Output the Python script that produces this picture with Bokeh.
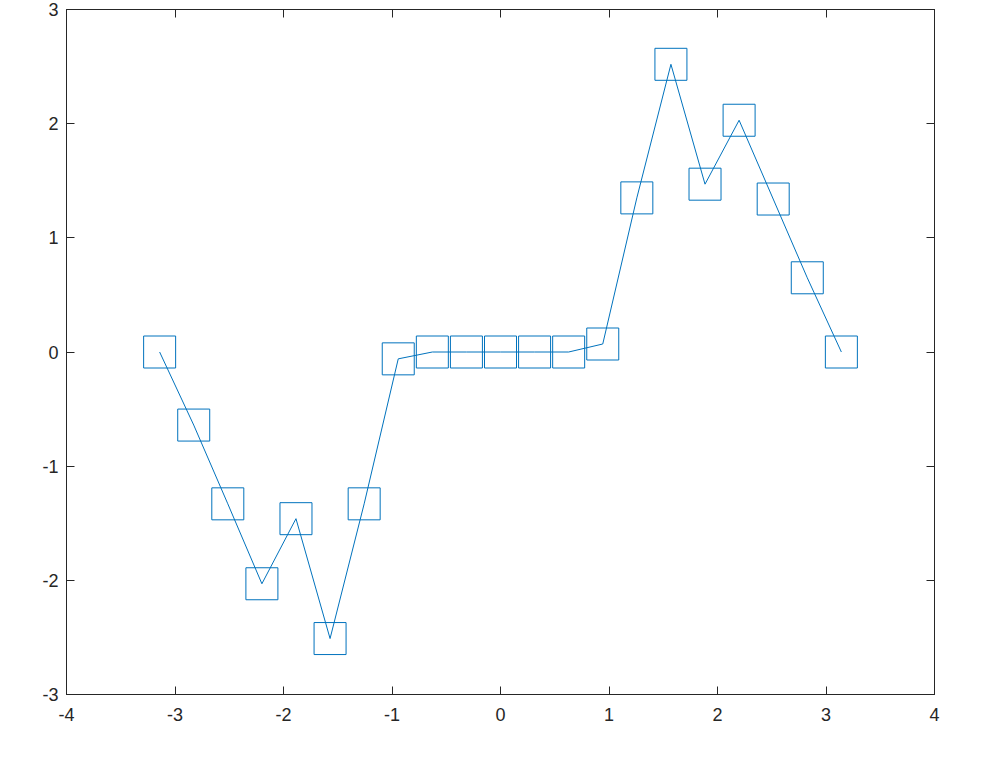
from bokeh.plotting import figure
from bokeh.models import (LinearAxis, FixedTicker, ColumnDataSource, Range1d,
                          PrintfTickFormatter, CustomJSTickFormatter)
from bokeh.embed import file_html
from bokeh.resources import INLINE

x_vals = [-3.1416, -2.8274, -2.5133, -2.1991, -1.8850, -1.5708, -1.2566, -0.9425,
          -0.6283, -0.3142, 0.0, 0.3142, 0.6283, 0.9425, 1.2566, 1.5708,
          1.8850, 2.1991, 2.5133, 2.8274, 3.1416]
y_vals = [0.0, -0.64, -1.33, -2.03, -1.46, -2.51, -1.33, -0.06,
          0.0, 0.0, 0.0, 0.0, 0.0, 0.07, 1.35, 2.52,
          1.47, 2.03, 1.34, 0.65, 0.0]
x_ticks = [-4, -3, -2, -1, 0, 1, 2, 3, 4]
y_ticks = [-3, -2, -1, 0, 1, 2, 3]

BLUE = "#0072BD"
AX = "#262626"
FONT = "Liberation Sans"

src = ColumnDataSource(data=dict(x=x_vals, y=y_vals))

p = figure(width=996, height=758, output_backend="svg", toolbar_location=None,
           x_range=Range1d(-4, 4), y_range=Range1d(-3, 3),
           x_axis_location=None, y_axis_location=None,
           min_border_left=66, min_border_right=62, min_border_top=9, min_border_bottom=64)
p.grid.visible = False
p.outline_line_color = AX
p.outline_line_width = 1
p.background_fill_color = "white"
p.border_fill_color = "white"

def style(ax, ticks, show_labels):
    ax.ticker = FixedTicker(ticks=ticks)
    ax.minor_tick_line_color = None
    ax.major_tick_in = 8
    ax.major_tick_out = 0
    ax.axis_line_color = AX
    ax.major_tick_line_color = AX
    if show_labels:
        ax.formatter = PrintfTickFormatter(format="%d")
        ax.major_label_text_font = FONT
        ax.major_label_text_font_size = "18px"
        ax.major_label_text_color = AX
    else:
        ax.formatter = CustomJSTickFormatter(code="return ''")
        ax.major_label_standoff = 0

xb = LinearAxis()
style(xb, x_ticks, True)
xb.major_label_standoff = 13
p.add_layout(xb, "below")

yl = LinearAxis()
style(yl, y_ticks, True)
yl.major_label_standoff = 8
p.add_layout(yl, "left")

xa = LinearAxis()
style(xa, x_ticks, False)
p.add_layout(xa, "above")

yr = LinearAxis()
style(yr, y_ticks, False)
p.add_layout(yr, "right")

p.line("x", "y", source=src, line_color=BLUE, line_width=1)
p.scatter("x", "y", source=src, marker="square", size=32, fill_color=None,
          line_color=BLUE, line_width=1)

open("out.html", "w").write(file_html(p, INLINE))
